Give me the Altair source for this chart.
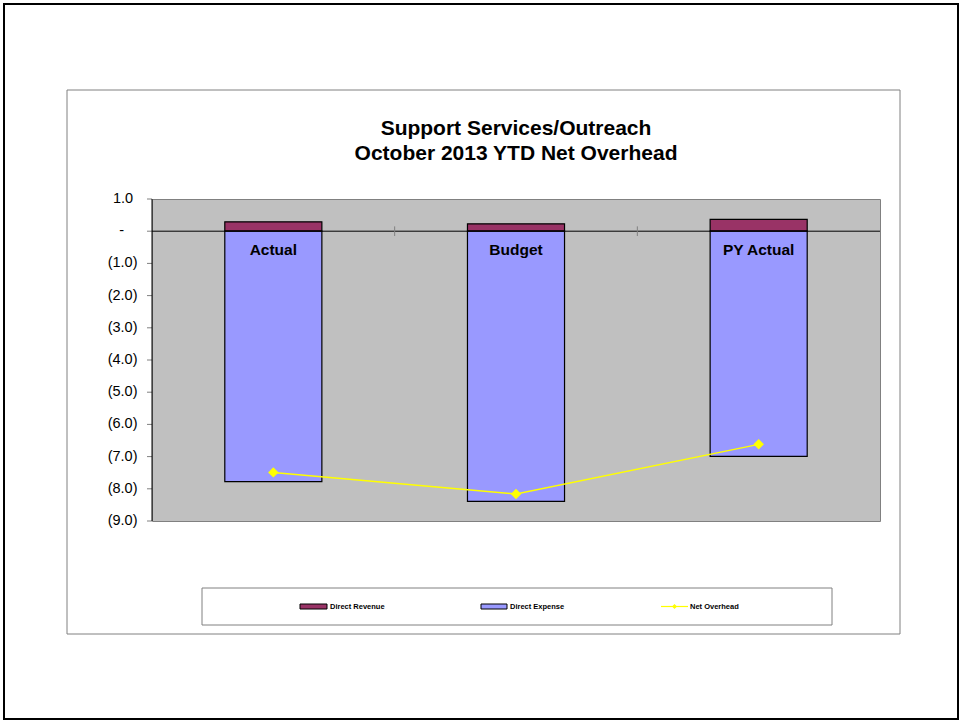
import altair as alt
import pandas as pd

FONT = "Liberation Sans"

# ---- data ----
categories = ["Actual", "Budget", "PY Actual"]
direct_revenue = [0.29, 0.23, 0.37]
direct_expense = [-7.78, -8.39, -6.99]
net_overhead = [-7.49, -8.16, -6.62]
series_names = ["Direct Revenue", "Direct Expense", "Net Overhead"]
series_colors = ["#993366", "#9999FF", "#FFFF00"]
y_ticks = [1, 0, -1, -2, -3, -4, -5, -6, -7, -8, -9]
y_tick_labels = ["1.0", "-", "(1.0)", "(2.0)", "(3.0)", "(4.0)", "(5.0)",
                 "(6.0)", "(7.0)", "(8.0)", "(9.0)"]
title_lines = ["Support Services/Outreach", "October 2013 YTD Net Overhead"]

bars_df = pd.DataFrame({
    "cat": categories * 2,
    "series": [series_names[0]] * len(categories) + [series_names[1]] * len(categories),
    "value": direct_revenue + direct_expense,
})
net_df = pd.DataFrame({"cat": categories, "value": net_overhead})
cat_df = pd.DataFrame({"cat": categories})
bound_df = pd.DataFrame({"cat": categories[:-1]})
ticks_df = pd.DataFrame({"value": y_ticks, "label": y_tick_labels})
one = pd.DataFrame({"k": [0]})

W, H = 728, 322

x_scale = alt.Scale(domain=categories, paddingInner=0, paddingOuter=0)
x_enc = alt.X("cat:N", sort=categories, scale=x_scale, axis=None)
y_scale = alt.Scale(domain=[-9, 1], nice=False, zero=False)


def Y(**kw):
    return alt.Y(scale=y_scale, axis=None, **kw)


# decorative frames (pixel positions relative to plot area)
outer = alt.Chart(one).mark_rect(fillOpacity=0, stroke="black", strokeWidth=2).encode(
    x=alt.value(-148), x2=alt.value(806), y=alt.value(-195), y2=alt.value(520))
inner = alt.Chart(one).mark_rect(fillOpacity=0, stroke="#808080", strokeWidth=1).encode(
    x=alt.value(-85), x2=alt.value(748), y=alt.value(-109), y2=alt.value(435))
legend_box = alt.Chart(one).mark_rect(fillOpacity=0, stroke="#808080", strokeWidth=1).encode(
    x=alt.value(50), x2=alt.value(680), y=alt.value(389), y2=alt.value(426))

bars = alt.Chart(bars_df).mark_bar(width=alt.RelativeBandSize(0.4), stroke="black", strokeWidth=1.2).encode(
    x=x_enc,
    y=Y(field="value", type="quantitative"),
    y2=alt.Y2(datum=0),
    color=alt.Color("series:N", scale=alt.Scale(domain=series_names[:2], range=series_colors[:2]), legend=None),
)

zero_line = alt.Chart(one).mark_rule(color="black", strokeWidth=1).encode(y=Y(datum=0))

bound_ticks = alt.Chart(bound_df).mark_rule(color="#808080", strokeWidth=1).encode(
    x=alt.X("cat:N", sort=categories, scale=x_scale, axis=None, bandPosition=1),
    y=Y(datum=0.15),
    y2=alt.Y2(datum=-0.15),
)

# y axis drawn from tick arrays (Excel-style accounting alignment)
y_tick_marks = alt.Chart(ticks_df).mark_rule(color="#808080", strokeWidth=1).encode(
    x=alt.value(-5), x2=alt.value(0), y=Y(field="value", type="quantitative"))


def tick_text(flt, xpos, align):
    return alt.Chart(ticks_df).transform_filter(flt).mark_text(
        font=FONT, fontSize=14.5, align=align, baseline="middle", color="black").encode(
        x=alt.value(xpos), y=Y(field="value", type="quantitative"), text="label:N")


y_text_neg = tick_text("datum.value < 0", -14.5, "right")
y_text_pos = tick_text("datum.value > 0", -18.8, "right")
y_text_zero = tick_text("datum.value == 0", -30.3, "center")
y_domain = alt.Chart(one).mark_rule(color="black", strokeWidth=1).encode(
    x=alt.value(0), y=Y(datum=1), y2=alt.Y2(datum=-9))

cat_labels = alt.Chart(cat_df).mark_text(font=FONT, fontSize=15.5, fontWeight="bold", dy=19,
                                          baseline="middle", color="black").encode(
    x=x_enc, y=Y(datum=0), text="cat:N")

net_line = alt.Chart(net_df).mark_line(color=series_colors[2], strokeWidth=1.5).encode(
    x=x_enc, y=Y(field="value", type="quantitative"))
net_pts = alt.Chart(net_df).mark_point(shape="diamond", filled=True, size=110, color=series_colors[2], opacity=1).encode(
    x=x_enc, y=Y(field="value", type="quantitative"))

title1 = alt.Chart(one).mark_text(font=FONT, fontSize=21, fontWeight="bold", align="center",
                                  baseline="alphabetic", color="black").encode(
    x=alt.value(W / 2), y=alt.value(-64), text=alt.value(title_lines[0]))
title2 = alt.Chart(one).mark_text(font=FONT, fontSize=21, fontWeight="bold", align="center",
                                  baseline="alphabetic", color="black").encode(
    x=alt.value(W / 2), y=alt.value(-39), text=alt.value(title_lines[1]))

# manual legend
LY = 407.5
leg_rev = alt.Chart(one).mark_rect(fill=series_colors[0], stroke="black", strokeWidth=1).encode(
    x=alt.value(148), x2=alt.value(175), y=alt.value(LY - 2.5), y2=alt.value(LY + 2.5))
leg_exp = alt.Chart(one).mark_rect(fill=series_colors[1], stroke="black", strokeWidth=1).encode(
    x=alt.value(329), x2=alt.value(355), y=alt.value(LY - 2.5), y2=alt.value(LY + 2.5))
leg_net = alt.Chart(one).mark_rule(color=series_colors[2], strokeWidth=1.2).encode(
    x=alt.value(509), x2=alt.value(536), y=alt.value(LY))
leg_net_pt = alt.Chart(one).mark_point(shape="diamond", filled=True, size=25, color=series_colors[2], opacity=1).encode(
    x=alt.value(522.5), y=alt.value(LY))


def leg_text(xpos, txt):
    return alt.Chart(one).mark_text(font=FONT, fontSize=7.5, fontWeight="bold", align="left",
                                    baseline="middle", color="black").encode(
        x=alt.value(xpos), y=alt.value(LY), text=alt.value(txt))


legend_texts = [leg_text(178, series_names[0]), leg_text(358, series_names[1]), leg_text(538, series_names[2])]

chart = alt.layer(
    outer, inner, legend_box,
    bars, zero_line, bound_ticks, cat_labels, net_line, net_pts,
    y_tick_marks, y_text_neg, y_text_pos, y_text_zero, y_domain,
    title1, title2,
    leg_rev, leg_exp, leg_net, leg_net_pt, *legend_texts,
).properties(
    width=W, height=H,
    autosize=alt.AutoSizeParams(type="none"),
    padding={"left": 152, "top": 199, "right": 80, "bottom": 200},
    background="white",
).configure_view(
    fill="#C0C0C0", stroke="#808080", strokeWidth=1,
)

chart.save("out.html", embed_options={"renderer": "svg", "actions": False})
